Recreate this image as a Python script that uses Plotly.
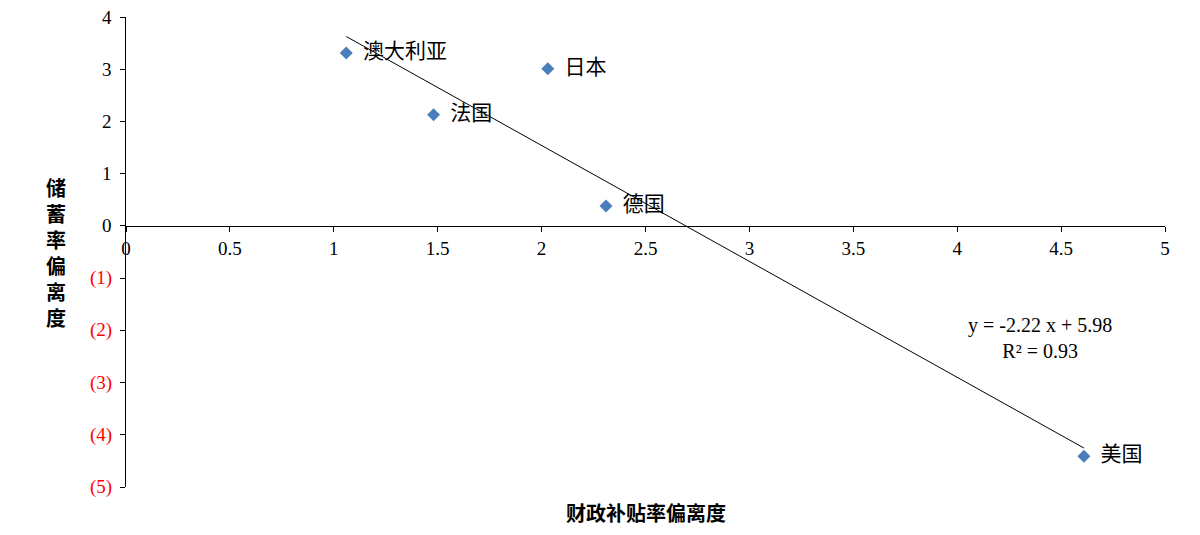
import plotly.graph_objects as go

# 数据
paises = ["澳大利亚", "日本", "法国", "德国", "美国"]
x_subsidio = [1.06, 2.03, 1.48, 2.31, 4.61]
y_ahorro = [3.31, 3.01, 2.13, 0.38, -4.41]
pendiente = -2.22
intercepto = 5.98
y_ticks = [4, 3, 2, 1, 0, -1, -2, -3, -4, -5]
y_ticklabels = ["4", "3", "2", "1", "0", "(1)", "(2)", "(3)", "(4)", "(5)"]
x_ticks = [0, 0.5, 1, 1.5, 2, 2.5, 3, 3.5, 4, 4.5, 5]
titulo_y = "储蓄率偏离度"
titulo_x = "财政补贴率偏离度"

serif = "Liberation Serif"
cjk = "Noto Sans CJK SC"

fig = go.Figure()

# Línea de tendencia
x0, x1 = min(x_subsidio), max(x_subsidio)
fig.add_trace(go.Scatter(x=[x0, x1], y=[pendiente * x0 + intercepto, pendiente * x1 + intercepto],
                         mode="lines", line=dict(color="black", width=1), hoverinfo="skip"))

# Puntos
fig.add_trace(go.Scatter(x=x_subsidio, y=y_ahorro, mode="markers+text",
                         marker=dict(symbol="diamond", size=10, color="#4a7ebb"),
                         text=["  " + p for p in paises], textposition="middle right",
                         textfont=dict(family=cjk, size=21, color="black")))

# Etiquetas eje Y (negativos en rojo)
for v, t in zip(y_ticks, y_ticklabels):
    fig.add_annotation(x=0, y=v, xref="paper", yref="y", text=t, showarrow=False,
                       xanchor="right", xshift=-12,
                       font=dict(family=serif, size=19, color="red" if v < 0 else "black"))

# Título eje Y, caracteres apilados
for i, c in enumerate(titulo_y):
    fig.add_annotation(x=0, y=0.5, xref="paper", yref="paper", showarrow=False,
                       text=c, xshift=-82, yshift=(2.5 - i) * 26,
                       font=dict(family=cjk, size=20, color="black", weight="bold"))

fig.add_annotation(x=0.5, y=-0.055, xref="paper", yref="paper", showarrow=False,
                   text=titulo_x, yanchor="middle",
                   font=dict(family=cjk, size=20, color="black", weight="bold"))

# Ecuación
fig.add_annotation(x=4.4, y=-2.15, text="y = -2.22 x + 5.98<br>R² = 0.93", showarrow=False,
                   font=dict(family=serif, size=20, color="black"))

fig.update_layout(
    width=1200, height=535, showlegend=False,
    plot_bgcolor="white", paper_bgcolor="white",
    margin=dict(l=118, r=43, t=9, b=56),
    xaxis=dict(range=[0, 5], tickvals=x_ticks, anchor="free", position=5 / 9,
               showline=True, linecolor="black", linewidth=1, ticks="outside",
               ticklen=5, tickcolor="black", showgrid=False, zeroline=False,
               tickfont=dict(family=serif, size=19, color="black")),
    yaxis=dict(range=[-5, 4], tickvals=y_ticks, showticklabels=False,
               showline=True, linecolor="black", linewidth=1, ticks="outside",
               ticklen=5, tickcolor="black", showgrid=False, zeroline=False),
)

fig.write_html("out.html")
